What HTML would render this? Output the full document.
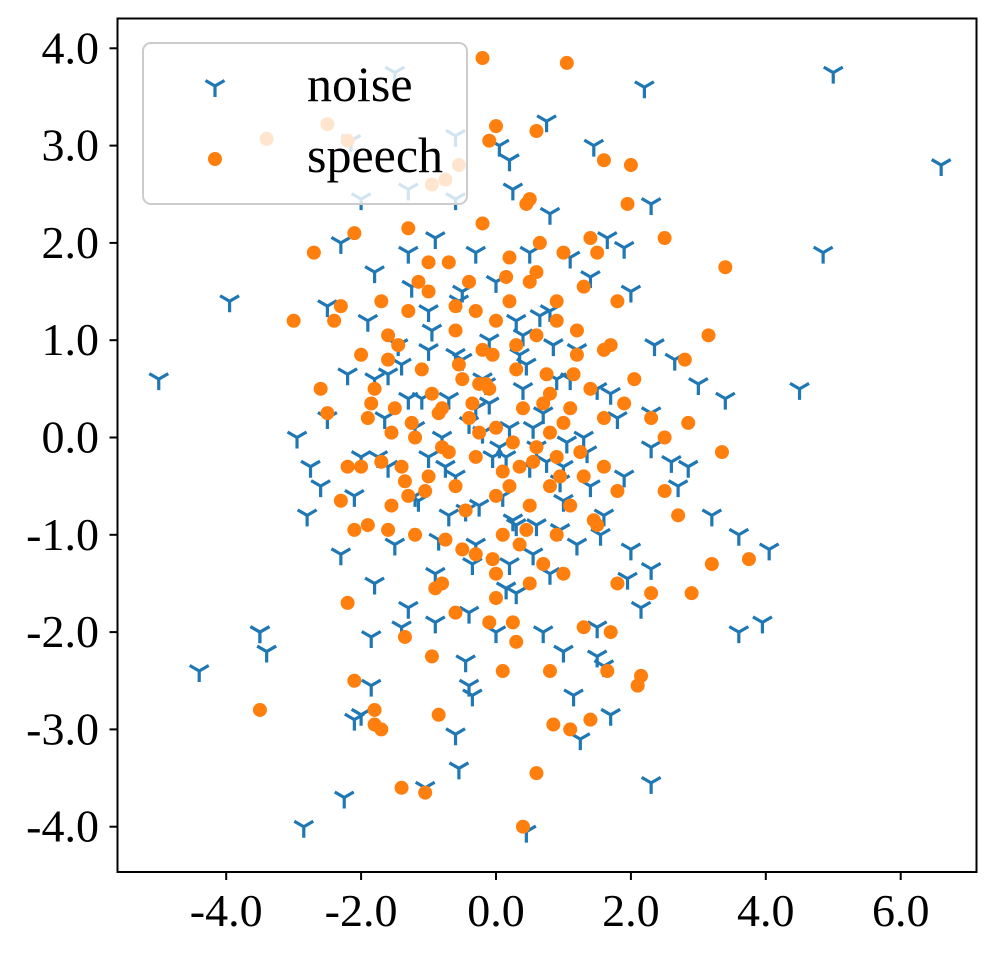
<!DOCTYPE html>
<html><head><meta charset="utf-8"><style>
html,body{margin:0;padding:0;background:#fff;}
svg{display:block;}
text{font-family:"Liberation Serif",serif;fill:#000;}
</style></head><body>
<svg id="chart" width="996" height="956" viewBox="0 0 996 956">
<g id="marks"></g>
<rect x="117.5" y="18.5" width="859" height="853.5" fill="none" stroke="#000" stroke-width="2"/>
<g id="xticks"></g>
<g id="yticks"></g>
<g>
<rect x="143" y="43" width="324" height="161" rx="8" fill="#fff" fill-opacity="0.8" stroke="#ccc" stroke-width="2"/>
<g id="legmarks"></g>
<text x="307" y="101" font-size="50">noise</text>
<text x="307" y="172" font-size="50">speech</text>
</g>
</svg>
<script>
const xTicks=[-4,-2,0,2,4,6];
const yTicks=[-4,-3,-2,-1,0,1,2,3,4];
const noiseX=[5.0,6.6,2.2,4.85,4.5,3.4,-5.0,-3.95,-4.4,-3.5,-3.4,-2.85,-2.25,0.45,2.3,-1.05,-0.55,-0.6,1.25,3.95,3.6,4.05,3.6,3.2,2.3,1.45,0.75,0.05,0.2,0.25,-0.6,-1.5,-2.15,-2.0,-1.3,-0.6,2.3,1.9,-2.3,-1.8,-2.5,-2.95,-2.75,-2.6,-2.8,-2.3,-1.8,-1.85,-1.3,-1.4,-2.0,-2.1,-1.85,-0.4,-0.35,-0.45,0.0,0.7,1.0,1.5,1.6,1.15,1.7,1.5,2.15,1.95,2.0,2.7,2.6,2.3,2.3,2.35,2.65,2.0,1.4,1.1,1.2,0.8,0.3,-0.1,-0.5,-1.0,-1.4,-1.8,-2.2,-1.65,-1.2,-0.8,-0.3,0.2,0.6,1.0,1.4,1.6,1.2,0.6,0.2,-0.3,-0.7,-1.2,-1.6,-2.0,-1.5,-0.9,-0.4,0.3,0.8,1.8,1.5,0.9,0.4,-0.2,-0.7,-1.3,-2.5,-1.9,-1.0,-0.5,0.0,0.5,-0.3,-1.3,-0.9,1.65,0.8,-0.6,0.1,0.5,1.3,1.9,-1.0,-2.1,-0.1,0.35,2.85,3.0,-3.5,
-1.1,-0.4,0.15,0.7,1.05,-0.75,-0.15,0.45,0.95,-1.45,-0.95,-0.25,0.3,0.85,1.35,-1.15,-0.55,0.05,0.55,1.1,-0.85,-0.2,0.4,1.0,-1.6,-0.6,0.25,0.75,1.7,-1.25,-0.35,0.65,-0.05,1.55,-1.75,-0.9,0.15,0.95,-0.45,0.55];
const noiseY=[3.75,2.8,3.6,1.9,0.5,0.4,0.6,1.4,-2.4,-2.0,-2.2,-4.0,-3.7,-4.05,-3.55,-3.6,-3.4,-3.05,-3.1,-1.9,-2.0,-1.15,-1.0,-0.8,-1.35,3.0,3.25,3.0,2.85,2.55,3.1,3.75,3.05,2.45,2.55,2.45,2.4,1.95,2.0,1.7,1.35,0.0,-0.3,-0.5,-0.8,-1.2,-1.5,-2.05,-1.75,-1.95,-2.85,-2.9,-2.55,-2.55,-2.65,-2.3,-2.0,-2.0,-2.2,-2.25,-2.35,-2.65,-2.85,-1.95,-1.75,-1.45,-1.15,-0.5,-0.25,-0.1,0.25,0.95,0.8,1.5,1.65,1.85,0.9,1.3,1.2,1.0,0.8,0.9,0.75,0.6,0.65,0.2,0.1,0.0,0.3,0.1,-0.1,-0.3,-0.5,-0.8,-1.1,-0.9,-1.3,-1.1,-0.8,-0.6,-0.3,-0.2,-1.1,-1.4,-1.8,-1.6,-1.4,0.2,0.5,0.6,0.5,0.6,0.4,0.4,0.2,1.2,1.3,1.5,1.6,1.9,1.9,1.9,2.05,2.05,2.3,-0.4,-0.6,-0.3,0.0,-0.4,-0.2,-0.6,0.35,0.85,-0.3,0.55,-2.0,
0.4,0.15,-0.2,0.25,-0.05,-0.3,0.55,0.75,-0.45,0.95,1.1,-0.7,-0.9,0.95,-0.15,-0.65,1.4,-0.1,-1.2,0.6,-1.05,0.05,1.05,-0.65,0.65,0.85,-0.85,-0.25,0.45,1.55,-1.3,1.25,-0.2,-1.0,-0.2,-1.9,-1.55,-0.95,-0.75,0.1];
const speechX=[-0.2,1.05,-3.4,-2.5,-2.2,-0.75,-0.55,-0.95,0.0,-0.1,0.6,1.6,2.0,1.95,0.5,0.45,-0.2,-1.3,-2.1,-2.7,2.5,3.4,3.15,-3.0,-2.4,-2.6,-2.5,-2.0,-2.3,-2.1,-1.9,-1.6,-1.55,-2.2,-2.1,-1.8,-1.8,-1.7,-3.5,-1.4,-1.05,0.4,0.6,0.85,1.1,1.4,0.8,0.1,-0.95,-0.85,-1.35,1.65,2.1,2.15,2.3,2.9,3.2,3.75,2.7,2.5,3.35,2.85,2.5,2.3,2.8,2.05,1.9,1.6,1.8,1.7,1.3,1.0,0.7,0.5,0.0,-0.3,-0.5,-0.9,-0.8,-0.6,0.0,0.25,0.3,-0.1,-1.2,-1.3,-1.0,-0.6,-0.3,0.2,0.5,0.8,1.1,1.3,0.9,0.6,0.8,1.1,1.4,1.6,1.2,0.9,0.5,0.2,0.0,-0.2,-0.5,-0.8,-1.2,-1.5,-1.8,-2.0,-1.6,-1.3,-1.0,-0.7,-0.4,0.2,0.6,1.0,1.3,1.8,1.4,1.5,0.65,0.9,0.3,-0.1,-0.4,-0.8,0.0,0.4,-1.1,-1.6,-1.9,-1.4,0.1,0.9,1.5,-0.6,-0.3,1.6,0.35,-1.0,-2.3,-0.05,1.8,-1.7,
-1.45,-0.95,-0.55,-0.15,0.3,0.75,1.2,-1.25,-0.7,-0.35,0.1,0.55,1.0,-1.05,-0.45,0.0,0.45,0.95,1.45,-1.35,-0.85,-0.25,0.25,0.7,1.25,-1.7,-1.15,-0.6,0.15,0.6,-0.05,0.35,-0.75,1.15,-1.55,-0.25,0.8,-2.2,-1.85,1.7];
const speechY=[3.9,3.85,3.07,3.22,3.05,2.65,2.8,2.6,3.2,3.05,3.15,2.85,2.8,2.4,2.45,2.4,2.2,2.15,2.1,1.9,2.05,1.75,1.05,1.2,1.2,0.5,0.25,-0.3,-0.65,-0.95,-0.9,-0.95,-0.7,-1.7,-2.5,-2.8,-2.95,-3.0,-2.8,-3.6,-3.65,-4.0,-3.45,-2.95,-3.0,-2.9,-2.4,-2.4,-2.25,-2.85,-2.05,-2.4,-2.55,-2.45,-1.6,-1.6,-1.3,-1.25,-0.8,-0.55,-0.15,0.15,0.0,0.2,0.8,0.6,0.35,-0.3,-1.5,-2.0,-1.95,-1.4,-1.3,-1.5,-1.4,-1.2,-1.15,-1.55,-1.5,-1.8,-1.65,-1.9,-2.1,-1.9,-1.0,-0.6,-0.4,-0.5,-0.2,-0.5,-0.7,-0.5,-0.7,-0.4,-0.2,-0.1,0.05,0.3,0.5,0.9,1.1,1.4,1.6,1.4,1.2,0.9,0.6,0.3,0.0,0.3,0.5,0.85,1.05,1.3,1.5,1.8,1.6,1.85,1.7,1.9,1.55,1.4,2.05,1.9,2.0,1.2,0.7,0.5,0.2,-0.1,0.1,0.3,0.7,0.8,0.2,-0.3,-1.0,-1.0,-0.9,1.1,1.3,0.2,-0.3,1.8,1.35,0.85,-0.55,1.4,
0.95,0.45,0.75,0.55,0.95,0.65,0.85,0.15,-0.15,0.35,-0.35,-0.25,0.15,-0.55,-0.75,-0.6,-0.95,-0.4,-0.85,-0.45,0.25,0.05,-0.05,0.35,-0.15,-0.25,1.6,1.35,1.65,1.05,-1.25,-1.1,-1.05,0.65,0.05,0.55,0.45,-0.3,0.35,0.95];
const NS='http://www.w3.org/2000/svg';
const X0=117.5,X1=976.5,Y0=18.5,Y1=872;
function sx(v){return 496+v*67.45;}
function sy(v){return 437.5-v*97.3;}
function mk(tag,attrs,parent){const e=document.createElementNS(NS,tag);for(const k in attrs)e.setAttribute(k,attrs[k]);parent.appendChild(e);return e;}
function tri(cx,cy,parent,op){
  const g=mk('g',{stroke:'#1f77b4','stroke-width':3.2,'stroke-opacity':op,fill:'none'},parent);
  mk('path',{d:`M${cx},${cy}L${cx},${cy+11}M${cx},${cy}L${cx-9.5},${cy-5.5}M${cx},${cy}L${cx+9.5},${cy-5.5}`},g);
  return g;
}
const marks=document.getElementById('marks');
for(let i=0;i<noiseX.length;i++){
  const g=tri(sx(noiseX[i]),sy(noiseY[i]),marks,1);
  
  
}
for(let i=0;i<speechX.length;i++){
  const c=mk('circle',{cx:sx(speechX[i]),cy:sy(speechY[i]),r:7,fill:'#ff7f0e'},marks);
  
  
}
const xg=document.getElementById('xticks');
xTicks.forEach(t=>{
  const x=sx(t);
  const l=mk('line',{x1:x,x2:x,y1:Y1,y2:Y1+8,stroke:'#000','stroke-width':2},xg);
  
  
  const tx=mk('text',{x:x,y:926,'font-size':46,'text-anchor':'middle'},xg);
  tx.textContent=t.toFixed(1);
  
  
});
const yg=document.getElementById('yticks');
yTicks.forEach(t=>{
  const y=sy(t);
  const l=mk('line',{x1:X0-8,x2:X0,y1:y,y2:y,stroke:'#000','stroke-width':2},yg);
  
  
  const tx=mk('text',{x:99,y:y+15,'font-size':46,'text-anchor':'end'},yg);
  tx.textContent=t.toFixed(1);
  
  
});
const lm=document.getElementById('legmarks');
const lg1=tri(215,86,lm,1);


const lc=mk('circle',{cx:215,cy:159,r:7,fill:'#ff7f0e'},lm);


</script>
</body></html>
